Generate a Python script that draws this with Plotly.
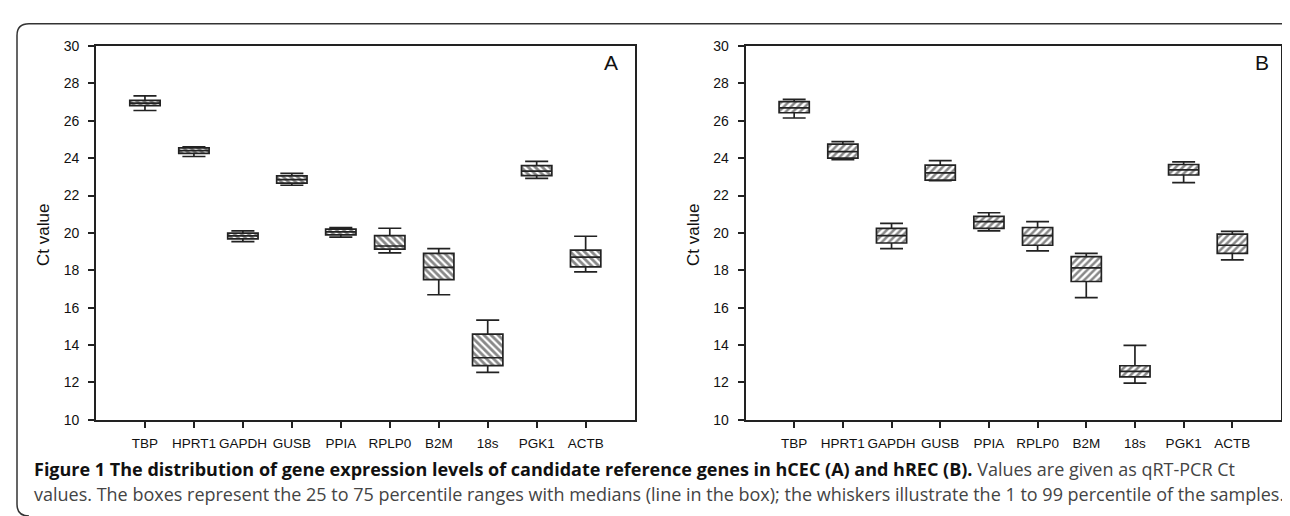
import plotly.graph_objects as go

genes = ["TBP", "HPRT1", "GAPDH", "GUSB", "PPIA", "RPLP0", "B2M", "18s", "PGK1", "ACTB"]

# Panel A (hCEC)
a_low = [26.55, 24.09, 19.53, 22.55, 19.77, 18.93, 16.69, 12.54, 22.92, 17.92]
a_q1 = [26.81, 24.26, 19.68, 22.66, 19.89, 19.13, 17.50, 12.90, 23.07, 18.18]
a_med = [26.95, 24.40, 19.84, 22.85, 20.06, 19.30, 18.16, 13.32, 23.31, 18.70]
a_q3 = [27.09, 24.55, 19.99, 23.05, 20.20, 19.85, 18.90, 14.58, 23.60, 19.08]
a_high = [27.33, 24.60, 20.11, 23.19, 20.29, 20.25, 19.16, 15.33, 23.83, 19.82]

# Panel B (hREC)
b_low = [26.15, 23.92, 19.16, 22.80, 20.11, 19.04, 16.54, 11.96, 22.69, 18.56]
b_q1 = [26.43, 24.00, 19.46, 22.83, 20.24, 19.34, 17.40, 12.30, 23.10, 18.90]
b_med = [26.69, 24.35, 19.85, 23.21, 20.60, 19.85, 18.13, 12.59, 23.37, 19.34]
b_q3 = [27.03, 24.75, 20.24, 23.63, 20.89, 20.29, 18.73, 12.89, 23.66, 19.93]
b_high = [27.15, 24.89, 20.51, 23.87, 21.08, 20.60, 18.90, 13.98, 23.80, 20.08]

W, H = 1290, 516
INK = "#222222"
AX_FONT = "Liberation Sans, Arial, sans-serif"

fig = go.Figure()

def add_panel(xa, ya, low, q1, med, q3, high, hatch, solidity):
    fig.add_trace(go.Bar(
        x=genes, y=[h - l for h, l in zip(q3, q1)], base=q1, width=0.62,
        xaxis=xa, yaxis=ya, showlegend=False, hoverinfo="skip",
        marker=dict(color="white", line=dict(width=0),
                    pattern=dict(shape=hatch, size=5, solidity=solidity,
                                 fgcolor="#111", bgcolor="white")),
    ))
    fig.add_trace(go.Box(
        x=genes, q1=q1, median=med, q3=q3, lowerfence=low, upperfence=high,
        width=0.62, whiskerwidth=0.76, xaxis=xa, yaxis=ya, showlegend=False,
        fillcolor="rgba(0,0,0,0)", line=dict(color=INK, width=1.7),
        hoverinfo="skip", boxpoints=False,
    ))

add_panel("x", "y", a_low, a_q1, a_med, a_q3, a_high, "\\", 0.55)
add_panel("x2", "y2", b_low, b_q1, b_med, b_q3, b_high, "/", 0.5)

ydom = [1 - 416.7 / H, 1 - 31 / H]
xcommon = dict(type="category", range=[-1, 10], showline=True, mirror=True,
               linecolor=INK, linewidth=1.7, ticks="outside", ticklen=6,
               tickwidth=1.5, tickcolor=INK, showgrid=False, zeroline=False,
               tickangle=0,
               tickfont=dict(family=AX_FONT, size=13.5, color="#111"),
               ticklabelstandoff=4, fixedrange=True)
ycommon = dict(range=[10, 30], dtick=2, showline=True, mirror=True,
               linecolor=INK, linewidth=1.7, ticks="outside", ticklen=6,
               tickwidth=1.5, tickcolor=INK, showgrid=False, zeroline=False,
               tickfont=dict(family=AX_FONT, size=14, color="#111"),
               ticklabelstandoff=6, domain=ydom, fixedrange=True)

fig.update_layout(
    width=W, height=H, margin=dict(l=0, r=0, t=0, b=0),
    paper_bgcolor="white", plot_bgcolor="white",
    barmode="overlay", boxmode="overlay",
    xaxis=dict(domain=[88 / W, 626.6 / W], anchor="y", **xcommon),
    yaxis=dict(anchor="x", **ycommon),
    xaxis2=dict(domain=[737.5 / W, 1273 / W], anchor="y2", **xcommon),
    yaxis2=dict(anchor="x2", **ycommon),
)

def px(x):
    return x / W

def py(y):
    return 1 - y / H

# outer rounded frame
r = 12
L, T, R, B = 9, 8, 1291, 516
path = (f"M {px(L + r)},{py(B)} Q {px(L)},{py(B)} {px(L)},{py(B - r)} "
        f"L {px(L)},{py(T + r)} Q {px(L)},{py(T)} {px(L + r)},{py(T)} "
        f"L {px(R - r)},{py(T)} Q {px(R)},{py(T)} {px(R)},{py(T + r)} "
        f"L {px(R)},{py(B)}")
fig.add_shape(type="path", path=path, xref="paper", yref="paper",
              line=dict(color="#333333", width=1.5))

ann = []
for xc, lab in [(603, "A"), (1254, "B")]:
    ann.append(dict(x=px(xc), y=py(48), xref="paper", yref="paper", text=lab,
                    showarrow=False, xanchor="center", yanchor="middle",
                    font=dict(family=AX_FONT, size=21, color="#111")))
for xc in [36, 686]:
    ann.append(dict(x=px(xc), y=py(226), xref="paper", yref="paper",
                    text="Ct value", textangle=-90, showarrow=False,
                    xanchor="center", yanchor="middle",
                    font=dict(family=AX_FONT, size=17, color="#111")))

cap1 = ("<b><span style='color:#111'>Figure 1 The distribution of gene expression levels of "
        "candidate reference genes in hCEC (A) and hREC (B).</span></b> "
        "Values are given as qRT-PCR Ct")
cap2 = ("values. The boxes represent the 25 to 75 percentile ranges with medians "
        "(line in the box); the whiskers illustrate the 1 to 99 percentile of the samples.")
for yc, txt in [(468, cap1), (493, cap2)]:
    ann.append(dict(x=px(24), y=py(yc), xref="paper", yref="paper", text=txt,
                    showarrow=False, xanchor="left", yanchor="middle",
                    font=dict(family="Open Sans, sans-serif", size=18, color="#444")))
fig.update_layout(annotations=ann)

fig.write_html("out.html", config={"displayModeBar": False})
